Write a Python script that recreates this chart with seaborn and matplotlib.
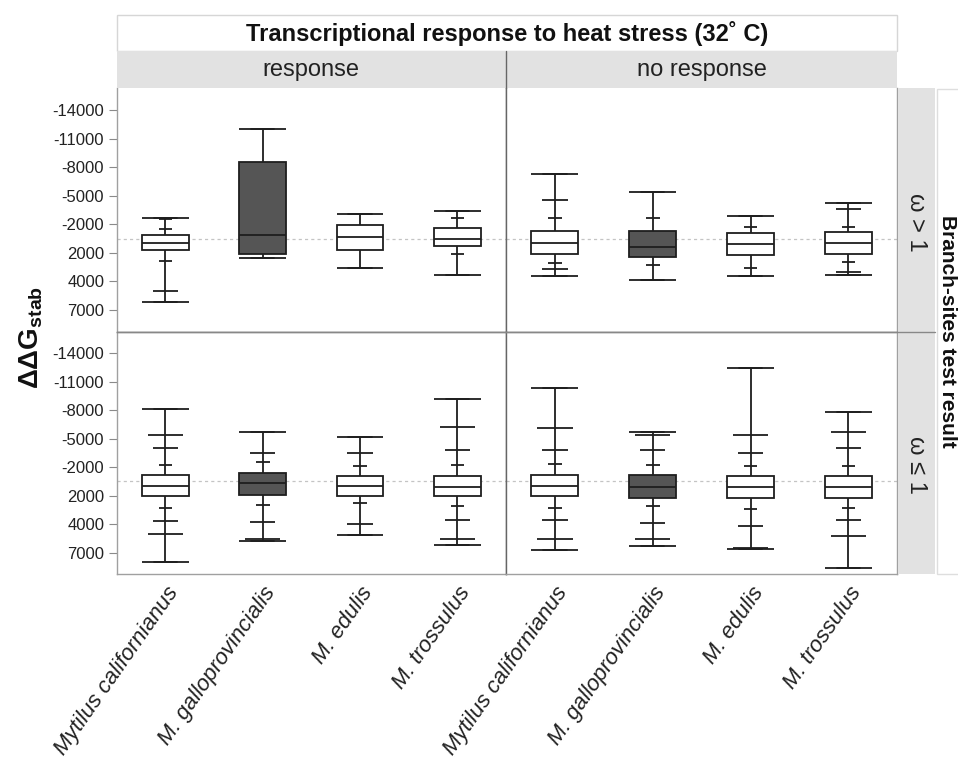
import numpy as np
import pandas as pd
import matplotlib
matplotlib.use("Agg")
import matplotlib.pyplot as plt
from matplotlib.patches import Rectangle
from matplotlib.lines import Line2D
import seaborn as sns

# ---------------- data ----------------
species = ["Mytilus californianus", "M. galloprovincialis", "M. edulis", "M. trossulus"]
response_levels = ["response", "no response"]
omega_levels = ["ω > 1", "ω ≤ 1"]
ytick_values = [-14000, -11000, -8000, -5000, -2000, 2000, 4000, 7000]

box_omega = ["ω > 1"] * 8 + ["ω ≤ 1"] * 8
box_response = (["response"] * 4 + ["no response"] * 4) * 2
box_species = species * 4

# whisker end (most negative), box edges, median, whisker end (most positive)
stat_low = [-2620, -12040, -3080, -3350, -7280, -5390, -2900, -4200,
            -8150, -5700, -5140, -9170, -10330, -5700, -12490, -7870]
stat_q1 = [-540, -8570, -1900, -1520, -1100, -1100, -720, -920,
           -920, -1140, -780, -780, -920, -920, -780, -780]
stat_median = [620, -540, -160, 60, 620, 1180, 810, 620,
               580, 200, 580, 760, 580, 760, 760, 760]
stat_q3 = [1600, 2080, 1600, 1040, 2080, 2290, 2180, 2080,
           2060, 1940, 2060, 2060, 2060, 2180, 2180, 2180]
stat_high = [6160, 2360, 3040, 3530, 3620, 3930, 3620, 3530,
             8020, 5740, 5150, 6160, 6730, 6310, 6580, 8620]

# additional quantile marks on the whiskers: (value, size class)
inner_marks = [
    [(-2510, "n"), (-1340, "n"), (2570, "n"), (5010, "m")],
    [],
    [],
    [(-2660, "n"), (2080, "n")],
    [(-4550, "m"), (-2620, "n"), (2740, "n"), (3160, "m")],
    [(-2620, "n"), (2850, "n")],
    [(-1660, "n"), (3040, "n")],
    [(-3640, "m"), (-1660, "n"), (2670, "n"), (3340, "m")],
    [(-5420, "w"), (-3980, "m"), (-2240, "n"), (2850, "n"), (3790, "m"), (5010, "w")],
    [(-3530, "m"), (-2510, "n"), (2640, "n"), (3880, "m"), (5600, "w")],
    [(-3530, "m"), (-2090, "n"), (2550, "n"), (4000, "m")],
    [(-6260, "w"), (-3820, "m"), (-2240, "n"), (2740, "n"), (3720, "m"), (5600, "w")],
    [(-6130, "w"), (-3820, "m"), (-2380, "n"), (2850, "n"), (3720, "m"), (5600, "w")],
    [(-5420, "w"), (-3820, "m"), (-2240, "n"), (2740, "n"), (3900, "m"), (5600, "w")],
    [(-5420, "w"), (-3530, "m"), (-2090, "n"), (2950, "n"), (4170, "m"), (6480, "w")],
    [(-5700, "w"), (-3980, "m"), (-2090, "n"), (2850, "n"), (3720, "m"), (5290, "w")],
]

strip_title = "Transcriptional response to heat stress (32˚ C)"
row_group_title = "Branch-sites test result"

# ---------------- styling ----------------
sns.set_theme(style="white")
plt.rcParams["font.family"] = ["Liberation Sans", "DejaVu Sans"]
plt.rcParams["mathtext.fontset"] = "custom"
plt.rcParams["mathtext.rm"] = "Liberation Sans"
plt.rcParams["mathtext.bf"] = "Liberation Sans:bold"
plt.rcParams["mathtext.it"] = "Liberation Sans:italic"

LINE = "#1e1e1e"
LW = 1.3
fill_palette = {"Mytilus californianus": "white", "M. galloprovincialis": "#555555",
                "M. edulis": "white", "M. trossulus": "white"}
BOX_W = 0.48
MARK_W = {"w": 0.36, "m": 0.26, "n": 0.14}

W, H = 958, 765
fig = plt.figure(figsize=(W / 100, H / 100), dpi=100)


def fx(px):
    return px / W


def fy(py):
    return 1 - py / H


X0, XM, X1 = 116.7, 506.0, 897.3
Y0, YM, Y1 = 88.3, 331.7, 574.3

# axis scale: tick values evenly spaced
KV = np.array(ytick_values, dtype=float)
KP = np.arange(len(KV), dtype=float)
STEP = 3000.0


def fwd(v):
    v = np.asarray(v, dtype=float)
    out = np.interp(v, KV, KP)
    out = np.where(v < KV[0], (v - KV[0]) / STEP, out)
    out = np.where(v > KV[-1], KP[-1] + (v - KV[-1]) / STEP, out)
    return out


def inv(p):
    p = np.asarray(p, dtype=float)
    out = np.interp(p, KP, KV)
    out = np.where(p < KP[0], KV[0] + p * STEP, out)
    out = np.where(p > KP[-1], KV[-1] + (p - KP[-1]) * STEP, out)
    return out


rows = []
for i in range(len(box_species)):
    for v in (stat_low[i], stat_q1[i], stat_median[i], stat_q3[i], stat_high[i]):
        rows.append(dict(omega=box_omega[i], response=box_response[i],
                         species=box_species[i], value=v))
df = pd.DataFrame(rows)

for r, om in enumerate(omega_levels):
    for c, rs in enumerate(response_levels):
        left = X0 if c == 0 else XM
        right = XM if c == 0 else X1
        top = Y0 if r == 0 else YM
        bot = YM if r == 0 else Y1
        ax = fig.add_axes([fx(left), fy(bot), (right - left) / W, (bot - top) / H])
        sub = df[(df.omega == om) & (df.response == rs)]
        sns.boxplot(data=sub, x="species", y="value", hue="species", order=species,
                    hue_order=species, palette=fill_palette, saturation=1, width=BOX_W,
                    whis=(0, 100), showfliers=False, linecolor=LINE, linewidth=LW,
                    legend=False, ax=ax, zorder=2)
        # caps and quantile marks
        for i in range(len(box_species)):
            if box_omega[i] != om or box_response[i] != rs:
                continue
            pos = species.index(box_species[i])
            ax.hlines([stat_low[i], stat_high[i]], pos - BOX_W / 2, pos + BOX_W / 2,
                      color=LINE, lw=LW, zorder=3)
            for val, size in inner_marks[i]:
                w = MARK_W[size]
                ax.hlines(val, pos - w / 2, pos + w / 2, color=LINE, lw=LW, zorder=3)
        ax.axhline(0, color="#c4c4c4", lw=0.9, ls=(0, (2.5, 2.5)), zorder=0)

        ax.set_yscale("function", functions=(fwd, inv))
        ax.set_ylim(9300, -16300)
        ax.set_xlim(-0.5, 3.5)
        ax.set_xlabel("")
        ax.set_ylabel("")
        ax.set_yticks(ytick_values)
        ax.set_yticklabels([str(v) for v in ytick_values])
        ax.yaxis.set_minor_locator(matplotlib.ticker.NullLocator())
        ax.tick_params(axis="y", length=6, width=0.8, color="#8a8a8a", pad=3,
                       labelsize=12, labelcolor="#222222", left=(c == 0), labelleft=(c == 0))
        ax.set_xticks(range(len(species)))
        if r == 1:
            ax.set_xticklabels(species, rotation=55, ha="right", va="top",
                               rotation_mode="anchor", fontsize=16, fontstyle="italic",
                               color="#222222")
            ax.tick_params(axis="x", length=0, pad=6, bottom=True, labelbottom=True)
        else:
            ax.tick_params(axis="x", length=0, bottom=False, labelbottom=False)

        for side, sp in ax.spines.items():
            sp.set_color("#a0a0a0")
            sp.set_linewidth(1.0)
        if c == 0:
            ax.spines["right"].set_color("#666666")
        else:
            ax.spines["left"].set_color("#666666")
        if r == 0:
            ax.spines["top"].set_visible(False)
            ax.spines["bottom"].set_color("#888888")
        else:
            ax.spines["top"].set_color("#888888")
        ax.set_facecolor("white")

# ---------------- strips ----------------
fig.add_artist(Rectangle((fx(X0), fy(50.7)), (X1 - X0) / W, (50.7 - 15) / H,
                         transform=fig.transFigure, fc="white", ec="#d6d6d6", lw=1))
fig.text(fx((X0 + X1) / 2), fy(33), strip_title, ha="center", va="center",
         fontsize=17, fontweight="bold", color="#111111")
fig.add_artist(Rectangle((fx(X0), fy(Y0)), (X1 - X0) / W, (Y0 - 50.7) / H,
                         transform=fig.transFigure, fc="#e2e2e2", ec="none"))
fig.add_artist(Line2D([fx(XM), fx(XM)], [fy(50.7), fy(Y0)], transform=fig.transFigure,
                      color="#666666", lw=1))
fig.text(fx((X0 + XM) / 2), fy(70), response_levels[0], ha="center", va="center",
         fontsize=17, color="#222222")
fig.text(fx((XM + X1) / 2), fy(70), response_levels[1], ha="center", va="center",
         fontsize=17, color="#222222")

SX0, SX1 = 898.0, 935.0
fig.add_artist(Rectangle((fx(SX0), fy(Y1)), (SX1 - SX0) / W, (Y1 - Y0) / H,
                         transform=fig.transFigure, fc="#e2e2e2", ec="none"))
fig.add_artist(Line2D([fx(X0), fx(SX1)], [fy(YM), fy(YM)], transform=fig.transFigure,
                      color="#888888", lw=1))
fig.text(fx((SX0 + SX1) / 2), fy((Y0 + YM) / 2 + 12), omega_levels[0], ha="center",
         va="center", rotation=-90, fontsize=17, color="#222222")
fig.text(fx((SX0 + SX1) / 2), fy((YM + Y1) / 2 + 12), omega_levels[1], ha="center",
         va="center", rotation=-90, fontsize=17, color="#222222")

fig.add_artist(Rectangle((fx(936.7), fy(Y1)), (970 - 936.7) / W, (Y1 - 89.3) / H,
                         transform=fig.transFigure, fc="white", ec="#dedede", lw=1))
fig.text(fx(947), fy((Y0 + Y1) / 2), row_group_title, ha="center", va="center",
         rotation=-90, fontsize=15, fontweight="bold", color="#111111")

fig.text(fx(31), fy(338), r"$\mathbf{\Delta\Delta G_{stab}}$", ha="center", va="center",
         rotation=90, fontsize=20, color="#111111")

fig.savefig("out.png", dpi=100)
